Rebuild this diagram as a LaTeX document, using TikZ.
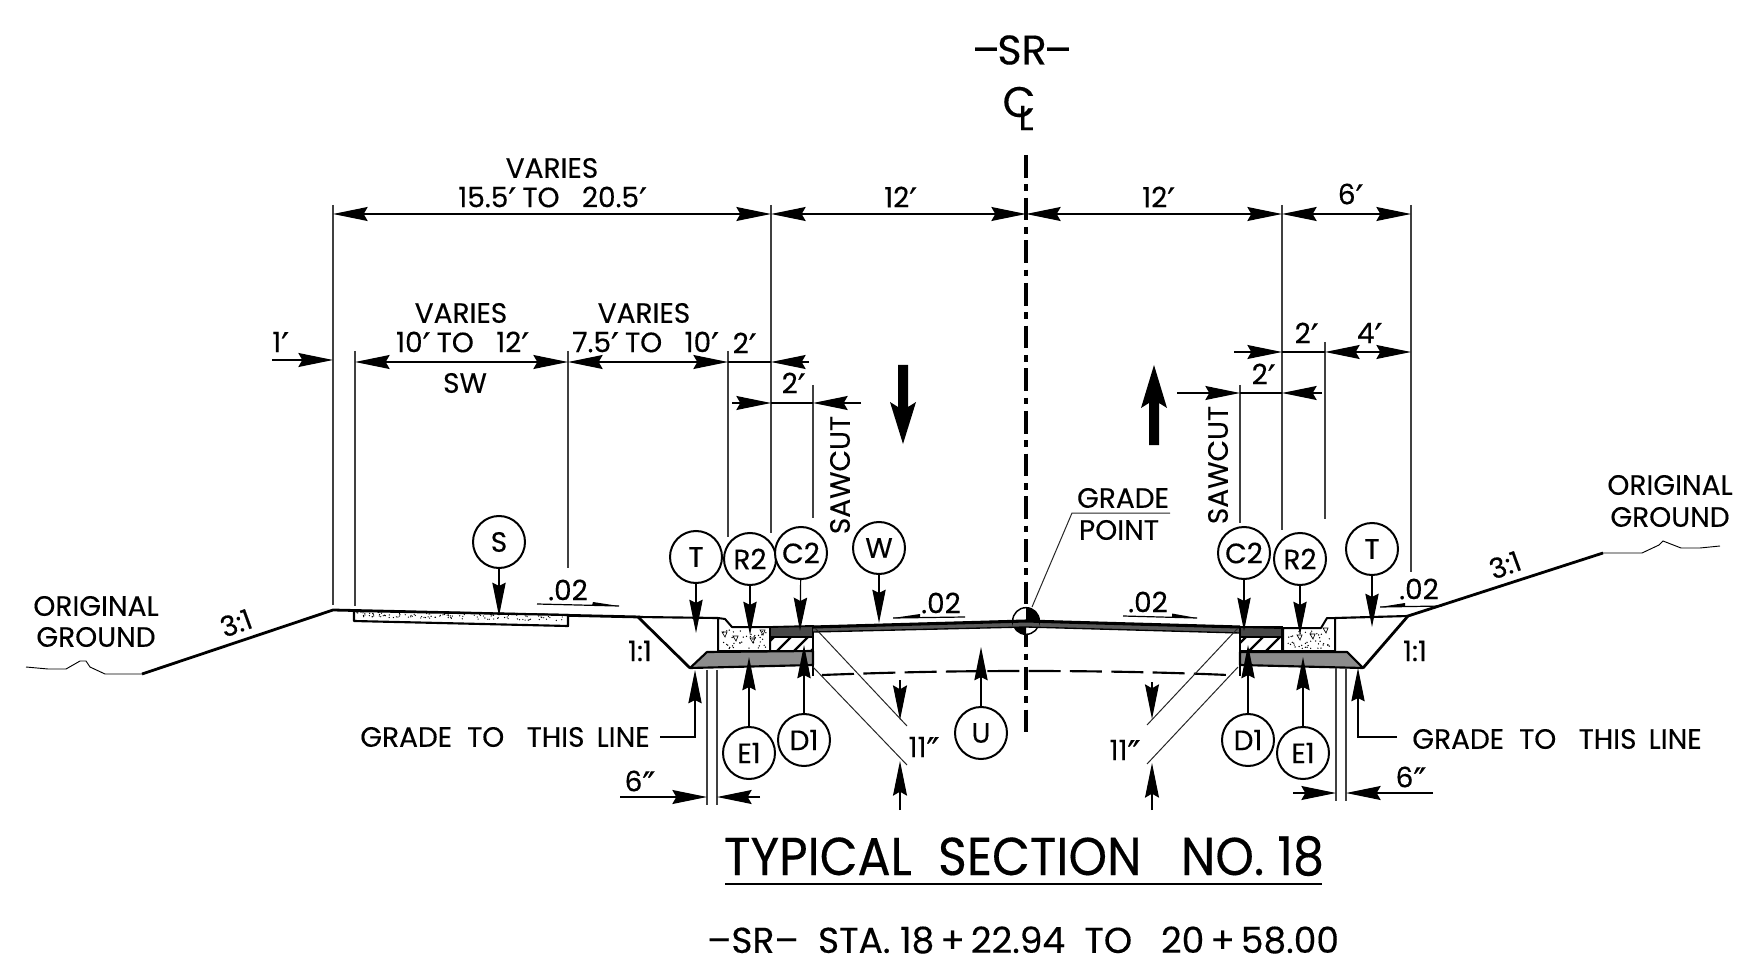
\documentclass[tikz,border=0pt]{standalone}
\usepackage{fontspec}
\setmainfont[FakeBold=0.3]{Poppins}
\newfontfamily\titlef[FakeStretch=0.92,FakeBold=0.3]{Poppins}
\newfontfamily\pf[FakeBold=0.6]{DejaVu Sans}
\usetikzlibrary{arrows.meta,calc}
\newcommand\ft{\smash{\raisebox{-4pt}{\pf\fontsize{26pt}{26pt}\selectfont ′}}\kern-1pt{}}
\newcommand\inc{\smash{\raisebox{-4pt}{\pf\fontsize{26pt}{26pt}\selectfont ″}}}
\tikzset{
  thin line/.style={line width=0.75pt,draw=black!85},
  ext/.style={line width=0.8pt,draw=black!75},
  dimtip/.style={-{Stealth[length=26pt,width=10.5pt,inset=3pt]}},
  dim/.style={line width=0.9pt,draw=black,dimtip},
  dimb/.style={line width=0.9pt,draw=black,{Stealth[length=26pt,width=10.5pt,inset=3pt]}-{Stealth[length=26pt,width=10.5pt,inset=3pt]}},
  ptr/.style={line width=0.9pt,draw=black,-{Stealth[length=25pt,width=10pt,inset=2.5pt]}},
  tag/.style={circle,draw=black,line width=1.5pt,minimum size=39pt,inner sep=0pt,fill=white,font=\fontsize{21pt}{21pt}\selectfont},
  lab/.style={inner sep=0pt,font=\fontsize{21pt}{21pt}\selectfont},
  road/.style={line width=2.1pt,draw=black,line join=round},
  base/.style={fill=black!45,draw=black,line width=1.6pt,line join=round},
  ground/.style={line width=0.7pt,draw=black},
}
\begin{document}
\begin{tikzpicture}[x=0.75pt,y=-0.75pt]
\useasboundingbox (0,0) rectangle (1763,973);
\pgfmathsetseed{7}

% ---------- free ends
\coordinate (eT1) at (696,633); \coordinate (eR1) at (750,635); \coordinate (eC1) at (800,631);
\coordinate (eW) at (879,623); \coordinate (eS) at (499,616);
\coordinate (eE1) at (749,657); \coordinate (eD1) at (804,645); \coordinate (eU) at (981,647);
\coordinate (eT2) at (1372,627); \coordinate (eR2) at (1300,635); \coordinate (eC2) at (1244,631);
\coordinate (eE2) at (1303,657); \coordinate (eD2) at (1248,645);

% ---------- ground, left
\draw[ground] (26,667) -- (48,669) -- (66,669) -- (80,661) -- (86,661) -- (90,667) -- (105,674) -- (142,674);
\draw[road] (142,674) -- (333,610) -- (640,617);
\draw[road] (638,617) -- (690,668);
\draw[road,line width=1.6pt] (638,617) -- (718,618);
% sidewalk
\draw[road,line width=1.6pt,fill=white] (354,611) -- (568,615) -- (568,626) -- (354,621) -- cycle;
\foreach \k in {1,...,110}{
  \pgfmathsetmacro\gx{357+rnd*208}
  \pgfmathsetmacro\gy{\gx*0.0187-6.7+607+rnd*5+5}
  \fill (\gx,\gy) circle (0.5pt);
}
% base left
\draw[base] (690,668) -- (707,652) -- (813,651) -- (813,665) -- cycle;
% curb left
\draw[line width=1.5pt,fill=white,line join=round] (718,618) -- (725,619) -- (732,627) -- (770,627) -- (770,651) -- (718,651) -- cycle;
\foreach \k in {1,...,40}{
  \pgfmathsetmacro\gx{721+rnd*46}
  \pgfmathsetmacro\gy{630+rnd*19}
  \fill (\gx,\gy) circle (0.55pt);
}
\foreach \p in {(724,634),(752,640),(762,632),(735,638)}{\draw[line width=0.5pt] \p ++(-2,-2) -- ++(5,0) -- ++(-2,5) -- cycle;}
% C2 + hatch left
\begin{scope}
\clip (770,637) rectangle (813,651);
\foreach \i in {0,17,...,68}{\draw[line width=1.8pt] (760+\i,651) -- (774+\i,637);}
\end{scope}
\draw[line width=1.5pt] (770,627) rectangle (813,651);
\fill[black!72] (770,627) rectangle (813,637);
\draw[line width=1.4pt] (770,627) -- (813,626) -- (813,637) -- (770,637) -- cycle;
\draw[line width=1.9pt] (813,626) -- (813,676);
% pavement
\fill[black!65] (813,626) -- (1026,620) -- (1026,627) -- (813,632) -- cycle;
\fill[black!65] (1026,620) -- (1240,627) -- (1240,633) -- (1026,627) -- cycle;

% ---------- ground, right
\draw[ground] (1603,553) -- (1642,553) -- (1659,545) -- (1663,541) -- (1681,548) -- (1700,548) -- (1720,546);
\draw[road] (1603,553) -- (1408,616) -- (1363,668);
\draw[road,line width=1.6pt] (1408,616) -- (1335,618);
\draw[base] (1240,652) -- (1347,652) -- (1363,668) -- (1240,665) -- cycle;
\draw[line width=1.5pt,fill=white,line join=round] (1335,618) -- (1327,618) -- (1321,628) -- (1283,628) -- (1283,651) -- (1335,651) -- cycle;
\foreach \k in {1,...,40}{
  \pgfmathsetmacro\gx{1286+rnd*47}
  \pgfmathsetmacro\gy{631+rnd*18}
  \fill (\gx,\gy) circle (0.55pt);
}
\foreach \p in {(1299,637),(1312,636),(1325,630)}{\draw[line width=0.5pt] \p ++(-2,-2) -- ++(5,0) -- ++(-2,5) -- cycle;}
\begin{scope}
\clip (1240,637) rectangle (1282,651);
\foreach \i in {0,17,...,68}{\draw[line width=1.8pt] (1232+\i,651) -- (1246+\i,637);}
\end{scope}
\draw[line width=1.5pt] (1240,627) rectangle (1282,651);
\fill[black!72] (1240,627) rectangle (1282,637);
\draw[line width=1.4pt] (1240,627) -- (1282,628) -- (1282,637) -- (1240,637) -- cycle;
\draw[line width=1.9pt] (1240,626) -- (1240,676);

% ---------- subgrade dashed, centre line
\draw[line width=1.6pt,dash pattern=on 24pt off 7pt] (822,675) .. controls (900,672) and (960,671) .. (1026,671) .. controls (1090,671) and (1160,672) .. (1228,675);
\draw[line width=2.3pt,dash pattern=on 17pt off 5pt on 5pt off 5pt] (1026,155) -- (1026,732);

% grade point
\fill[white] (1026,621) circle (10pt);
\fill (1026,621) -- ++(10pt,0) arc[start angle=0,end angle=90,radius=10pt] -- cycle;
\fill (1026,621) -- ++(-10pt,0) arc[start angle=180,end angle=270,radius=10pt] -- cycle;
\draw[line width=1.1pt] (1026,621) circle (10pt);
% pavement edges over the point
\fill[black!65] (1013,621) -- (1026,620) -- (1039,621) -- (1039,627) -- (1026,627) -- (1013,627) -- cycle;
\draw[line width=2.3pt] (813,627) -- (1026,621);
\draw[line width=1pt] (813,632) -- (1026,627);
\draw[line width=2.3pt] (1026,621) -- (1240,627);
\draw[line width=1pt] (1026,627) -- (1240,633);

% ---------- extension lines
\foreach \x/\a/\b in {333/205/605,771/205/533,1282/205/530,1411/205/572,355/351/606,568/351/568,728/351/537,813/385/518,1325/342/519,1240/385/523}{
  \draw[ext] (\x,\a) -- (\x,\b);
}
\foreach \x/\a/\b in {707/670/805,717/670/805,1336/668/801,1346/668/801}{\draw[ext] (\x,\a) -- (\x,\b);}

% ---------- top dimensions
\coordinate (d0) at (333,214); \coordinate (d1) at (771,214); \coordinate (d2) at (1026,214); \coordinate (d3) at (1282,214); \coordinate (d4) at (1411,214);
\draw[dimb] (d0) -- (d1);
\draw[dimb] (d1) -- (d2);
\draw[dimb] (d2) -- (d3);
\draw[dimb] (d3) -- (d4);
\node[lab] (v1) at (552,168) {VARIES};
\node[lab] (v2) at (552,197) {15.5\ft{} TO \ \ 20.5\ft};
\node[lab] (t12a) at (900,197) {12\ft};
\node[lab] (t12b) at (1158,197) {12\ft};
\node[lab] (t6) at (1350,194) {6\ft};

\draw[dim] (272,360) -- (333,360);
\node[lab] (t1f) at (280,342) {1\ft};
\draw[dimb] (355,362) -- (568,362);
\draw[dimb] (568,362) -- (728,362);
\draw[line width=0.9pt] (728,362) -- (771,362);
\draw[dim] (809,362) -- (771,362);
\node[lab] (v3) at (461,313) {VARIES};
\node[lab] (v3b) at (462,342) {10\ft{} TO \ \ 12\ft};
\node[lab] (sw) at (465,383) {SW};
\node[lab] (v4) at (644,313) {VARIES};
\node[lab] (v4b) at (645,342) {7.5\ft{} TO \ \ 10\ft};
\node[lab] (t2a) at (744,343) {2\ft};
\draw[dim] (732,403) -- (771,403);
\draw[line width=0.9pt] (771,403) -- (813,403);
\draw[dim] (861,403) -- (813,403);
\node[lab] (t2b) at (793,383) {2\ft};
\node[lab,rotate=90] (saw1) at (840,475) {SAWCUT};

\draw[dim] (1234,352) -- (1282,352);
\draw[line width=0.9pt] (1282,352) -- (1325,352);
\draw[dimb] (1325,352) -- (1411,352);
\node[lab] (t2c) at (1306,333) {2\ft};
\node[lab] (t4) at (1369,333) {4\ft};
\draw[dim] (1177,393) -- (1240,393);
\draw[line width=0.9pt] (1240,393) -- (1282,393);
\draw[dim] (1322,393) -- (1282,393);
\node[lab] (t2d) at (1263,374) {2\ft};
\node[lab,rotate=90] (saw2) at (1218,465) {SAWCUT};

% direction arrows
\fill (903,444) -- (890,402) -- (898,407) -- (898,365) -- (908,365) -- (908,407) -- (916,402) -- cycle;
\fill (1154,365) -- (1141,408) -- (1149,403) -- (1149,445) -- (1159,445) -- (1159,403) -- (1167,408) -- cycle;

% ---------- tags
\node[tag] (S) at (499,542) {S};
\node[tag] (T1) at (696,557) {T};
\node[tag] (R1) at (750,559) {R2};
\node[tag] (C1) at (801,553) {C2};
\node[tag] (W) at (879,548) {W};
\node[tag] (E1) at (749,753) {E1};
\node[tag] (D1) at (804,740) {D1};
\node[tag] (U) at (981,733) {U};
\node[tag] (C2) at (1244,553) {C2};
\node[tag] (R2) at (1300,559) {R2};
\node[tag] (T2) at (1372,549) {T};
\node[tag] (D2) at (1248,740) {D1};
\node[tag] (E2) at (1303,753) {E1};
\foreach \a/\b in {S/eS,T1/eT1,R1/eR1,C1/eC1,W/eW,E1/eE1,D1/eD1,U/eU,T2/eT2,R2/eR2,C2/eC2,E2/eE2,D2/eD2}{
  \draw[ptr] (\a) -- (\b);
}

% ---------- grade to this line
\node[lab] (gl) at (505,737) {GRADE \ TO \ \ THIS \,LINE};
\coordinate (g0) at (660,737); \coordinate (g1) at (695,670);
\draw[ptr] (g0) -| (g1);
\node[lab] (gr) at (1557,739) {GRADE \ TO \ \ THIS \,LINE};
\coordinate (g3) at (1397,737); \coordinate (g2) at (1358,668);
\draw[ptr] (g3) -| (g2);

% 6 in
\draw[dim] (620,797) -- (707,797);
\draw[dim] (760,797) -- (717,797);
\node[lab] (s1) at (640,781) {6\inc};
\draw[dim] (1293,793) -- (1336,793);
\draw[dim] (1433,793) -- (1346,793);
\node[lab] (s2) at (1411,777) {6\inc};

% 11 in
\draw[thin line] (815,628) -- (907,726);
\draw[thin line] (813,667) -- (907,765);
\draw[dim] (900,680) -- (900,720);
\draw[dim] (900,810) -- (900,761);
\node[lab] (e1) at (924,747) {11\inc};
\draw[thin line] (1238,628) -- (1147,725);
\draw[thin line] (1238,667) -- (1147,764);
\draw[dim] (1152,682) -- (1152,719);
\draw[dim] (1152,810) -- (1152,763);
\node[lab] (e2) at (1125,750) {11\inc};

\node[lab] (h1) at (640,651) {1:1};
\node[lab] (h2) at (1415,651) {1:1};
\node[lab,rotate=20] (r1) at (236,623) {3:1};
\node[lab,rotate=20] (r2) at (1505,565) {3:1};

% slopes .02
\node[lab] (p1) at (568,590) {.02};
\draw[line width=0.9pt] (537,604) -- (619,606);
\fill (619,606) -- (593,602) -- (592,605.5) -- cycle;
\node[lab] (p2) at (941,603) {.02};
\draw[line width=0.9pt] (965,617) -- (893,618);
\fill (893,618) -- (920,614) -- (920,617.5) -- cycle;
\node[lab] (p3) at (1148,602) {.02};
\draw[line width=0.9pt] (1123,616) -- (1197,618);
\fill (1197,618) -- (1172,613.5) -- (1172,617.3) -- cycle;
\node[lab] (p4) at (1419,589) {.02};
\draw[line width=0.9pt] (1380,607) -- (1442,606);
\fill (1380,607) -- (1405,603) -- (1405,606.6) -- cycle;

% grade point label
\node[lab] (gp1) at (1123,498) {GRADE};
\node[lab] (gp2) at (1119,530) {POINT};
\coordinate (gk) at (1072,513); \coordinate (gk2) at (1170,513);
\coordinate (gk3) at (1032,607);
\draw[thin line] (gk2) -- (gk) -- (gk3);

% originals
\node[lab] (o1) at (96,606) {ORIGINAL};
\node[lab] (o2) at (96,637) {GROUND};
\node[lab] (o3) at (1670,485) {ORIGINAL};
\node[lab] (o4) at (1670,517) {GROUND};

% header
\node[inner sep=0pt,font=\fontsize{31pt}{31pt}\selectfont] (sr) at (1022,50) {–\kern-2pt SR\kern-2pt –};
\node[inner sep=0pt,font=\fontsize{32pt}{32pt}\selectfont] (cl1) at (1019,102) {C};
\node[inner sep=0pt,font=\fontsize{26pt}{26pt}\selectfont] (cl2) at (1026,118) {L};

% title
\node[inner sep=0pt,font=\titlef\fontsize{40pt}{40pt}\selectfont] (title) at (1024,856) {TYPICAL \ SECTION \ \ NO. 18};
\draw[line width=1.3pt] (725,884) -- (1322,884);
\node[inner sep=0pt,font=\fontsize{27pt}{27pt}\selectfont] (sub) at (1023,940) {–SR– \ STA. 18\,+\,22.94 \ TO \ \ 20\,+\,58.00};
\end{tikzpicture}
\end{document}
